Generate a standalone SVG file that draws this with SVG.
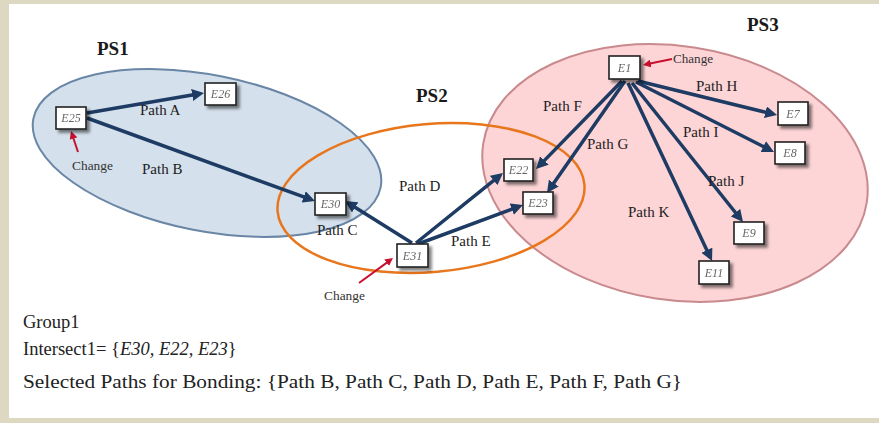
<svg xmlns="http://www.w3.org/2000/svg" width="879" height="423" viewBox="0 0 879 423">
<style>
.lbl{font-family:"Liberation Serif","Times New Roman",serif;font-size:15px;fill:#222}
.ps{font-family:"Liberation Serif","Times New Roman",serif;font-size:19px;font-weight:bold;fill:#1a1a1a}
.chg{font-family:"Liberation Serif","Times New Roman",serif;font-size:12.5px;fill:#333}
.nt{font-family:"Liberation Serif","Times New Roman",serif;font-size:12px;font-style:italic;fill:#666;text-anchor:middle}
.box{fill:#fff;stroke:#222;stroke-width:1.6}
.con{fill:none;stroke:#1d3b63;stroke-width:3.5}
.red{fill:none;stroke:#c8102e;stroke-width:2}
.bt{font-family:"Liberation Serif","Times New Roman",serif;font-size:18.5px;fill:#222}
</style>
<defs>
<marker id="ah" markerUnits="userSpaceOnUse" markerWidth="14" markerHeight="12" refX="3" refY="6" orient="auto"><path d="M0,0 L12,6 L0,12 z" fill="#1d3b63"/></marker>
<marker id="rh" markerUnits="userSpaceOnUse" markerWidth="10" markerHeight="8" refX="2" refY="4" orient="auto"><path d="M0,0 L8,4 L0,8 z" fill="#c8102e"/></marker>
<filter id="sh" x="-30%" y="-30%" width="170%" height="170%"><feGaussianBlur in="SourceAlpha" stdDeviation="1.8"/><feOffset dx="3" dy="3"/><feComponentTransfer><feFuncA type="linear" slope="0.5"/></feComponentTransfer><feMerge><feMergeNode/><feMergeNode in="SourceGraphic"/></feMerge></filter>
</defs>
<rect x="0" y="0" width="879" height="423" fill="#ffffff"/>
<rect x="0" y="0" width="879" height="4" fill="#ddd8c2"/>
<rect x="0" y="0" width="9" height="423" fill="#ddd8c2"/>
<rect x="0" y="418" width="879" height="5" fill="#ddd8c2"/>
<g id="PS1">
<ellipse cx="207" cy="153" rx="177" ry="78" transform="rotate(11.2 207 153)" fill="#d4e0ec" stroke="#6a86a6" stroke-width="2"/>
<text class="ps" x="97" y="55">PS1</text>
</g>
<g id="PS3">
<ellipse cx="675" cy="173" rx="194" ry="127" transform="rotate(8.7 675 173)" fill="#fdd5d7" stroke="#c98a8e" stroke-width="2"/>
<text class="ps" x="747" y="31">PS3</text>
</g>
<g id="PS2">
<ellipse cx="431" cy="198" rx="154" ry="74" transform="rotate(-5 431 198)" fill="none" stroke="#e8761c" stroke-width="2.5"/>
<text class="ps" x="416" y="102">PS2</text>
</g>
<g id="connectors">
<path class="con" d="M87,113 L195.1,94.5" marker-end="url(#ah)"/>
<path class="con" d="M87,118 L306.5,197.9" marker-end="url(#ah)"/>
<path class="con" d="M412,243 L352.6,205.8" marker-end="url(#ah)"/>
<path class="con" d="M416,243 L496,178.6" marker-end="url(#ah)"/>
<path class="con" d="M418,244 L514.6,208.1" marker-end="url(#ah)"/>
<path class="con" d="M622,81 L542.3,162.6" marker-end="url(#ah)"/>
<path class="con" d="M625,81 L552.1,185.6" marker-end="url(#ah)"/>
<path class="con" d="M638,81 L768.3,112.9" marker-end="url(#ah)"/>
<path class="con" d="M636,82 L766,147.9" marker-end="url(#ah)"/>
<path class="con" d="M632,83 L737.4,215" marker-end="url(#ah)"/>
<path class="con" d="M628,83 L708.2,252.9" marker-end="url(#ah)"/>
<path class="red" d="M78,152 L72.9,136.7" marker-end="url(#rh)"/>
<path class="red" d="M672,59 L648.9,63.8" marker-end="url(#rh)"/>
<path class="red" d="M359,283 L388.2,261.6" marker-end="url(#rh)"/>
<text class="lbl" x="140" y="115">Path A</text>
<text class="lbl" x="142" y="174">Path B</text>
<text class="lbl" x="317" y="235">Path C</text>
<text class="lbl" x="399" y="191">Path D</text>
<text class="lbl" x="451" y="246">Path E</text>
<text class="lbl" x="543" y="111">Path F</text>
<text class="lbl" x="587" y="149">Path G</text>
<text class="lbl" x="696" y="91">Path H</text>
<text class="lbl" x="683" y="137">Path I</text>
<text class="lbl" x="708" y="186">Path J</text>
<text class="lbl" x="628" y="217">Path K</text>
<text class="chg" x="72" y="170" textLength="41" lengthAdjust="spacingAndGlyphs">Change</text>
<text class="chg" x="673" y="63" textLength="40" lengthAdjust="spacingAndGlyphs">Change</text>
<text class="chg" x="324" y="300" textLength="41" lengthAdjust="spacingAndGlyphs">Change</text>
</g>
<g id="E25" filter="url(#sh)"><rect class="box" x="56" y="107" width="30" height="22"/><text class="nt" x="71" y="122">E25</text></g>
<g id="E26" filter="url(#sh)"><rect class="box" x="205" y="83" width="31" height="22"/><text class="nt" x="220.5" y="98">E26</text></g>
<g id="E30" filter="url(#sh)"><rect class="box" x="315" y="193" width="31" height="22"/><text class="nt" x="330.5" y="208">E30</text></g>
<g id="E31" filter="url(#sh)"><rect class="box" x="397" y="244" width="31" height="23"/><text class="nt" x="412.5" y="259.5">E31</text></g>
<g id="E22" filter="url(#sh)"><rect class="box" x="504" y="159" width="29" height="22"/><text class="nt" x="518.5" y="174">E22</text></g>
<g id="E23" filter="url(#sh)"><rect class="box" x="523" y="192" width="30" height="22"/><text class="nt" x="538" y="207">E23</text></g>
<g id="E1" filter="url(#sh)"><rect class="box" x="609" y="56" width="31" height="23"/><text class="nt" x="624.5" y="71.5">E1</text></g>
<g id="E7" filter="url(#sh)"><rect class="box" x="778" y="102" width="30" height="23"/><text class="nt" x="793" y="117.5">E7</text></g>
<g id="E8" filter="url(#sh)"><rect class="box" x="775" y="142" width="30" height="22"/><text class="nt" x="790" y="157">E8</text></g>
<g id="E9" filter="url(#sh)"><rect class="box" x="734" y="222" width="30" height="22"/><text class="nt" x="749" y="237">E9</text></g>
<g id="E11" filter="url(#sh)"><rect class="box" x="699" y="261" width="30" height="23"/><text class="nt" x="714" y="276.5">E11</text></g>
<g id="caption">
<text class="bt" x="23" y="328">Group1</text>
<text class="bt" x="23" y="355">Intersect1= {<tspan font-style="italic">E30, E22, E23</tspan>}</text>
<text class="bt" x="23" y="388" style="font-size:19.5px" textLength="659" lengthAdjust="spacingAndGlyphs">Selected Paths for Bonding: {Path B, Path C, Path D, Path E, Path F, Path G}</text>
</g>
</svg>
